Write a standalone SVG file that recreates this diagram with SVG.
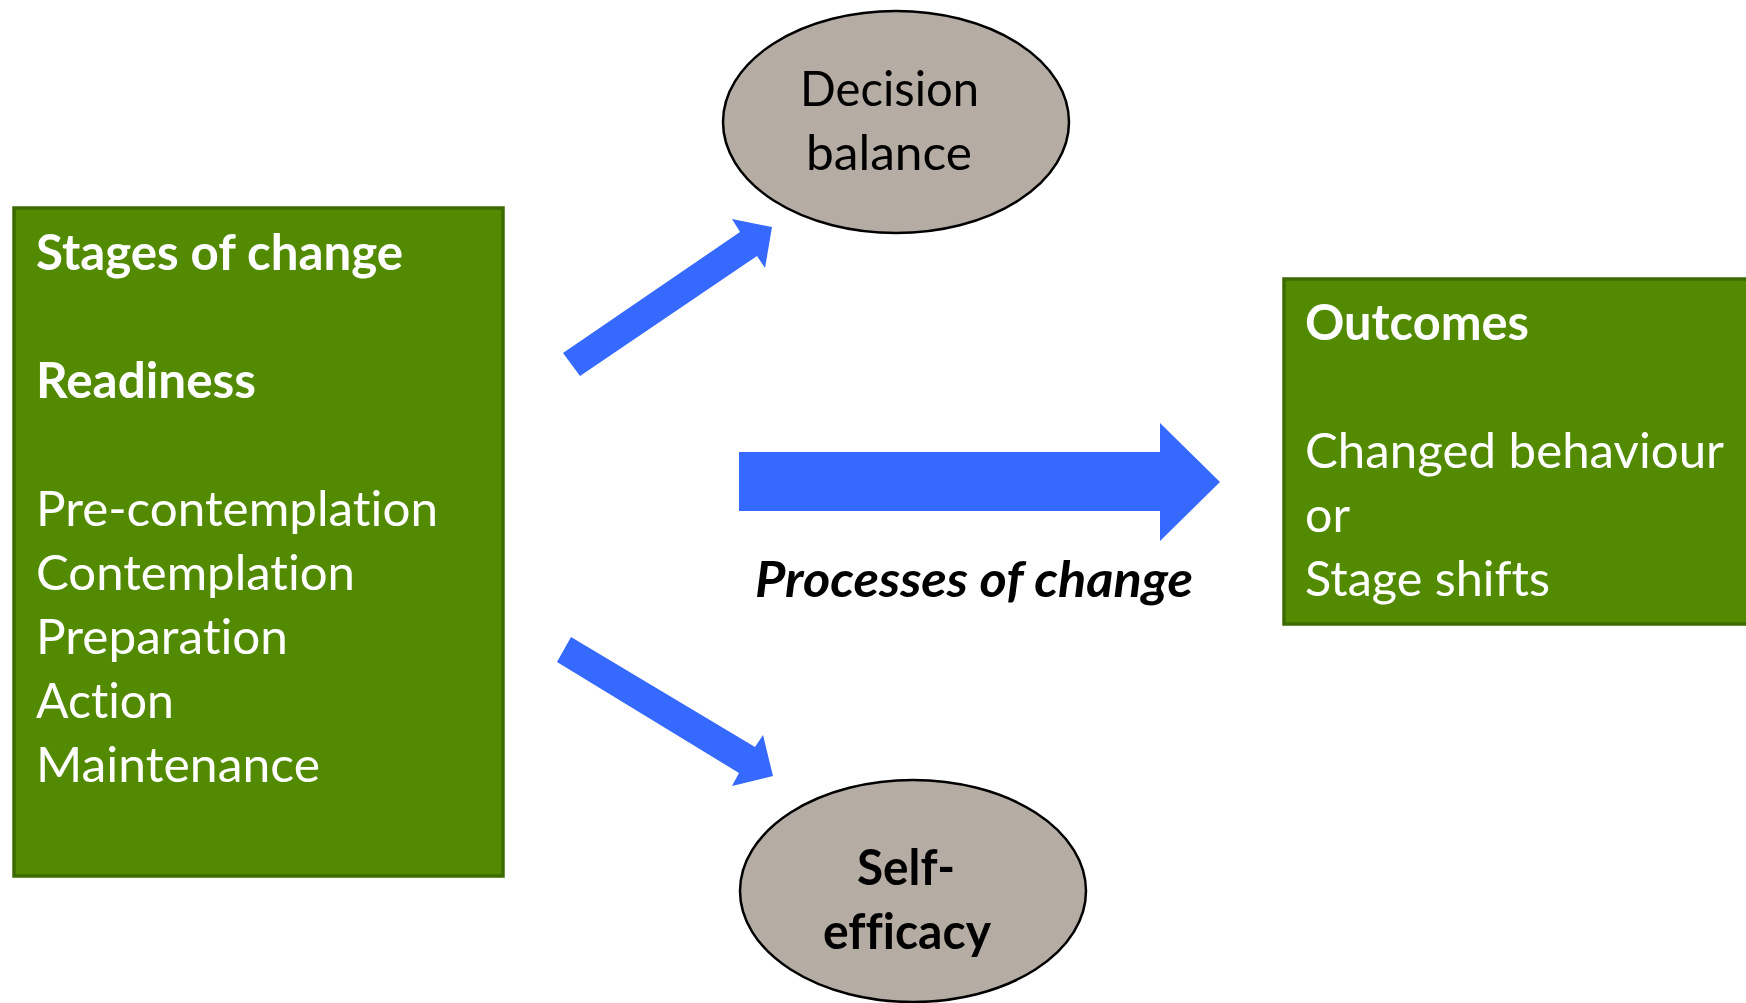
<svg xmlns="http://www.w3.org/2000/svg" width="1746" height="1003" viewBox="0 0 1746 1003">
<style>
.box{fill:#528A02;stroke:#3C6B00;stroke-width:3.5}
.ell{fill:#B5ACA3;stroke:#000;stroke-width:2.5}
.arr{fill:#3569FF}
.t{font-family:Lato,"Open Sans","Liberation Sans",sans-serif;font-size:49px;font-variant-ligatures:none}
.w{fill:#fff}
.k{fill:#000}
.b{font-weight:bold}
.i{font-style:italic}
</style>
<rect width="1746" height="1003" fill="#fff"/>
<g id="connectors">
<polygon class="arr" points="563,353 740,232 732,219 772,227 765,268 757,256 580,376"/>
<polygon class="arr" points="571,637 755,747 763,735 773,776 732,786 739,773 557,662"/>
<polygon class="arr" points="739,452 1160,452 1160,423 1220,482 1160,541 1160,511 739,511"/>
<text class="t k b i" x="755" y="597" textLength="438" lengthAdjust="spacingAndGlyphs">Processes of change</text>
</g>
<g id="stages">
<rect class="box" x="14" y="208" width="489" height="668"/>
<text class="t w b" x="36" y="270" textLength="367" lengthAdjust="spacingAndGlyphs">Stages of change</text>
<text class="t w b" x="36" y="398" textLength="220" lengthAdjust="spacingAndGlyphs">Readiness</text>
<text class="t w" x="36" y="526" textLength="402" lengthAdjust="spacingAndGlyphs">Pre-contemplation</text>
<text class="t w" x="36" y="590" textLength="319" lengthAdjust="spacingAndGlyphs">Contemplation</text>
<text class="t w" x="36" y="654" textLength="252" lengthAdjust="spacingAndGlyphs">Preparation</text>
<text class="t w" x="36" y="718" textLength="138" lengthAdjust="spacingAndGlyphs">Action</text>
<text class="t w" x="36" y="782" textLength="284" lengthAdjust="spacingAndGlyphs">Maintenance</text>
</g>
<g id="outcomes">
<rect class="box" x="1284" y="279" width="480" height="345"/>
<text class="t w b" x="1305" y="340" textLength="224" lengthAdjust="spacingAndGlyphs">Outcomes</text>
<text class="t w" x="1305" y="468" textLength="419" lengthAdjust="spacingAndGlyphs">Changed behaviour</text>
<text class="t w" x="1305" y="532" textLength="45" lengthAdjust="spacingAndGlyphs">or</text>
<text class="t w" x="1305" y="596" textLength="245" lengthAdjust="spacingAndGlyphs">Stage shifts</text>
</g>
<g id="decision-balance">
<ellipse class="ell" cx="896" cy="122" rx="173" ry="111"/>
<text class="t k" x="800" y="106" textLength="179" lengthAdjust="spacingAndGlyphs">Decision</text>
<text class="t k" x="806" y="170" textLength="166" lengthAdjust="spacingAndGlyphs">balance</text>
</g>
<g id="self-efficacy">
<ellipse class="ell" cx="913" cy="891" rx="173" ry="111"/>
<text class="t k b" x="857" y="885" textLength="98" lengthAdjust="spacingAndGlyphs">Self-</text>
<text class="t k b" x="823" y="949" textLength="168" lengthAdjust="spacingAndGlyphs">efficacy</text>
</g>
</svg>
